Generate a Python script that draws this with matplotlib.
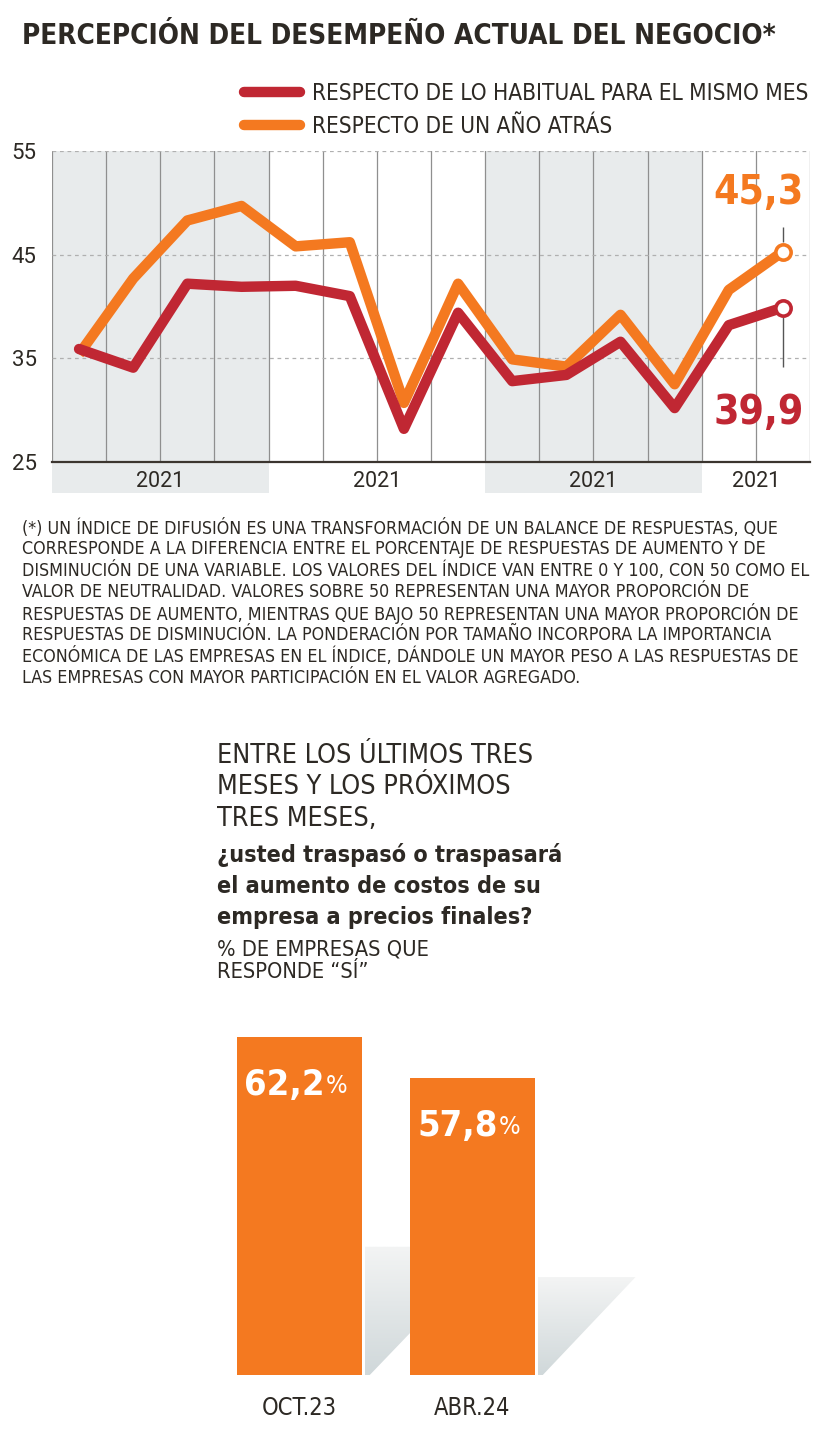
import numpy as np
import matplotlib
matplotlib.use("Agg")
from matplotlib import pyplot as plt
from matplotlib import font_manager
from matplotlib.patches import Polygon

# --- data ---
months = list(range(14))
habitual = [35.9, 34.1, 42.2, 41.9, 42.0, 41.0, 28.2, 39.4, 32.8, 33.4, 36.6, 30.2, 38.2, 39.9]
anio_atras = [35.4, 42.7, 48.3, 49.7, 45.8, 46.2, 30.7, 42.2, 34.9, 34.2, 39.2, 32.5, 41.6, 45.3]
year_labels = ['2021', '2021', '2021', '2021']
year_groups = [(0, 3), (4, 7), (8, 11), (12, 13)]
y_ticks = [25, 35, 45, 55]

bar_cats = ['OCT.23', 'ABR.24']
bar_vals = [62.2, 57.8]

# --- style ---
W, H = 823, 1440
RED = '#c02733'
ORANGE = '#f47920'
DARK = '#2d2924'
SHADE = '#e8ebec'

# pick the narrowest family that is installed
entries = font_manager.fontManager.ttflist
if any(f.name == 'Liberation Sans Narrow' for f in entries):
    FAM, STRETCH = 'Liberation Sans Narrow', 'normal'
elif any(f.name == 'DejaVu Sans' and 'condensed' in str(f.stretch) for f in entries):
    FAM, STRETCH = 'DejaVu Sans', 'condensed'
else:
    FAM, STRETCH = 'Liberation Sans', 'normal'
plt.rcParams['font.family'] = [FAM, 'DejaVu Sans']
plt.rcParams['font.stretch'] = STRETCH
plt.rcParams['text.color'] = DARK


def fx(px):
    return px / W


def fy(py):
    return 1 - py / H


fig = plt.figure(figsize=(W / 100, H / 100), dpi=100)
renderer = fig.canvas.get_renderer()


def fit_size(s, width_px, **kw):
    # font size that makes the string span width_px, as in the reference
    t = fig.text(0, 0, s, fontsize=20, **kw)
    w = t.get_window_extent(renderer).width
    t.remove()
    return 20 * width_px / w


# title
title = 'PERCEPCIÓN DEL DESEMPEÑO ACTUAL DEL NEGOCIO*'
fig.text(fx(22), fy(36), title, fontsize=fit_size(title, 753, fontweight='bold'),
         fontweight='bold', va='center', ha='left')

# ---------------- line chart ----------------
ax = fig.add_axes([fx(52), fy(462), (810 - 52) / W, (462 - 151) / H])
ax.set_xlim(-0.5, len(months) - 0.5)
ax.set_ylim(y_ticks[0], y_ticks[-1])

for i, (a, b) in enumerate(year_groups):
    if i % 2 == 0:
        ax.axvspan(a - 0.5, b + 0.5, ymin=-0.1, ymax=1, color=SHADE, lw=0,
                   zorder=0, clip_on=False)
    ax.text((a + b) / 2, -0.062, year_labels[i], transform=ax.get_xaxis_transform(),
            ha='center', va='center', fontsize=15.5, family='Roboto', color=DARK)

ax.set_xticks(np.arange(-0.5, len(months), 1))
ax.set_xticklabels([])
ax.set_yticks(y_ticks)
ax.set_axisbelow(True)
ax.grid(axis='x', color='#8f8f8f', lw=0.9)
ax.grid(axis='y', color='#b0b0b0', lw=0.9, ls=(0, (3, 3)))
ax.tick_params(length=0)
ax.tick_params(axis='y', pad=11, labelsize=16, labelcolor=DARK)
for lab in ax.get_yticklabels():
    lab.set_family('Roboto')
for s in ['top', 'left', 'right']:
    ax.spines[s].set_visible(False)
ax.spines['bottom'].set_color('#3b352f')
ax.spines['bottom'].set_linewidth(1.6)
ax.spines['bottom'].set_zorder(6)

l_org, = ax.plot(months, anio_atras, color=ORANGE, lw=7.5, solid_joinstyle='round',
                 solid_capstyle='butt', zorder=3, label='RESPECTO DE UN AÑO ATRÁS')
l_red, = ax.plot(months, habitual, color=RED, lw=7.5, solid_joinstyle='round',
                 solid_capstyle='round', zorder=4, label='RESPECTO DE LO HABITUAL PARA EL MISMO MES')

# end markers + connectors + labels
ax.vlines(months[-1], anio_atras[-1] + 0.9, 47.7, color='#555555', lw=1, zorder=2)
ax.vlines(months[-1], 34.2, habitual[-1] - 0.9, color='#555555', lw=1, zorder=2)
ax.plot(months[-1], anio_atras[-1], 'o', mfc='white', mec=ORANGE, ms=11, mew=2.6, zorder=6)
ax.plot(months[-1], habitual[-1], 'o', mfc='white', mec=RED, ms=11, mew=2.6, zorder=6)
for series, color, dy in [(anio_atras, ORANGE, 42), (habitual, RED, -76)]:
    s = f'{series[-1]:.1f}'.replace('.', ',')
    ax.annotate(s, xy=(months[-1], series[-1]), xytext=(15, dy), textcoords='offset points',
                ha='right', va='center', fontsize=fit_size(s, 90, fontweight='bold'),
                fontweight='bold', color=color, zorder=7)

leg_fs = fit_size(l_red.get_label(), 497)
leg_px = leg_fs * 100 / 72
leg = fig.legend(handles=[l_red, l_org], loc='upper left', bbox_to_anchor=(fx(244), fy(96 - leg_px * 0.62)),
                 frameon=False, fontsize=leg_fs, handlelength=56 / leg_px, handletextpad=12 / leg_px,
                 labelspacing=(37 - leg_px * 1.2) / leg_px, borderaxespad=0, borderpad=0)
for h in leg.legend_handles:
    h.set_solid_capstyle('round')

# footnote
footnote = [
    '(*) UN ÍNDICE DE DIFUSIÓN ES UNA TRANSFORMACIÓN DE UN BALANCE DE RESPUESTAS, QUE',
    'CORRESPONDE A LA DIFERENCIA ENTRE EL PORCENTAJE DE RESPUESTAS DE AUMENTO Y DE',
    'DISMINUCIÓN DE UNA VARIABLE. LOS VALORES DEL ÍNDICE VAN ENTRE 0 Y 100, CON 50 COMO EL',
    'VALOR DE NEUTRALIDAD. VALORES SOBRE 50 REPRESENTAN UNA MAYOR PROPORCIÓN DE',
    'RESPUESTAS DE AUMENTO, MIENTRAS QUE BAJO 50 REPRESENTAN UNA MAYOR PROPORCIÓN DE',
    'RESPUESTAS DE DISMINUCIÓN. LA PONDERACIÓN POR TAMAÑO INCORPORA LA IMPORTANCIA',
    'ECONÓMICA DE LAS EMPRESAS EN EL ÍNDICE, DÁNDOLE UN MAYOR PESO A LAS RESPUESTAS DE',
    'LAS EMPRESAS CON MAYOR PARTICIPACIÓN EN EL VALOR AGREGADO.',
]
fn_fs = fit_size(footnote[4], 778)
for i, line in enumerate(footnote):
    fig.text(fx(22), fy(528 + 21.4 * i), line, fontsize=fn_fs, va='center', ha='left')

# ---------------- question + bars ----------------
q_light = ['ENTRE LOS ÚLTIMOS TRES', 'MESES Y LOS PRÓXIMOS', 'TRES MESES,']
q_bold = ['¿usted traspasó o traspasará', 'el aumento de costos de su', 'empresa a precios finales?']
ql_fs = fit_size(q_light[0], 315)
qb_fs = fit_size(q_bold[0], 344, fontweight='bold')
for i, t in enumerate(q_light):
    fig.text(fx(217), fy(756 + 31.5 * i), t, fontsize=ql_fs, va='center', ha='left')
for i, t in enumerate(q_bold):
    fig.text(fx(217), fy(855 + 31.5 * i), t, fontsize=qb_fs, fontweight='bold', va='center', ha='left')
sub_fs = fit_size('% DE EMPRESAS QUE', 213)
fig.text(fx(217), fy(949), '% DE EMPRESAS QUE', fontsize=sub_fs, va='center', ha='left')
fig.text(fx(217), fy(972), 'RESPONDE “SÍ”', fontsize=sub_fs, va='center', ha='left')

bax = fig.add_axes([fx(200), fy(1375), 500 / W, (1375 - 1030) / H])
bw = 0.7225
x = np.arange(len(bar_cats))
base, top = 26, 63.0
xlim = (-0.575, 2.315)
px_per_x = 500 / (xlim[1] - xlim[0])
px_per_y = 345 / (top - base)

# decorative gradient shadows behind bars (45 degree wedge)
shadow_frac = [0.38, 0.33]
grad = np.linspace(0, 1, 100).reshape(-1, 1)
cmap = matplotlib.colors.LinearSegmentedColormap.from_list('sh', ['#d0d8da', '#f3f4f4'])
for i, v in enumerate(bar_vals):
    r = x[i] + bw / 2 + 0.015
    st = base + shadow_frac[i] * (v - base)
    sw = (st - base) * px_per_y / px_per_x
    poly = Polygon([(r, base), (r, st), (r + sw, st), (r + 0.03, base)],
                   closed=True, facecolor='none', edgecolor='none')
    bax.add_patch(poly)
    im = bax.imshow(grad, extent=(r, r + sw, base, st), origin='lower', cmap=cmap,
                    aspect='auto', zorder=1)
    im.set_clip_path(poly)

bars = bax.bar(x, bar_vals, width=bw, color=ORANGE, zorder=3)
bax.set_xlim(*xlim)
bax.set_ylim(base, top)

num_fs = fit_size('62,2', 80, fontweight='bold')
for b, v in zip(bars, bar_vals):
    num = bax.annotate(f'{v:.1f}'.replace('.', ','), xy=(b.get_x() + bw / 2, v),
                       xytext=(18, -34), textcoords='offset points', ha='right', va='center',
                       fontsize=num_fs, fontweight='bold', color='white', zorder=5)
    bax.annotate('%', xy=(1, 0.1), xycoords=num, xytext=(1, 0), textcoords='offset points',
                 ha='left', va='bottom', fontsize=num_fs * 0.7, color='white', zorder=5)

bax.set_xticks(x)
bax.set_xticklabels(bar_cats)
bax.tick_params(axis='x', length=0, pad=15, labelsize=fit_size(bar_cats[0], 75), labelcolor=DARK)
bax.set_yticks([])
for s in bax.spines.values():
    s.set_visible(False)

fig.savefig('out.png', dpi=100)
